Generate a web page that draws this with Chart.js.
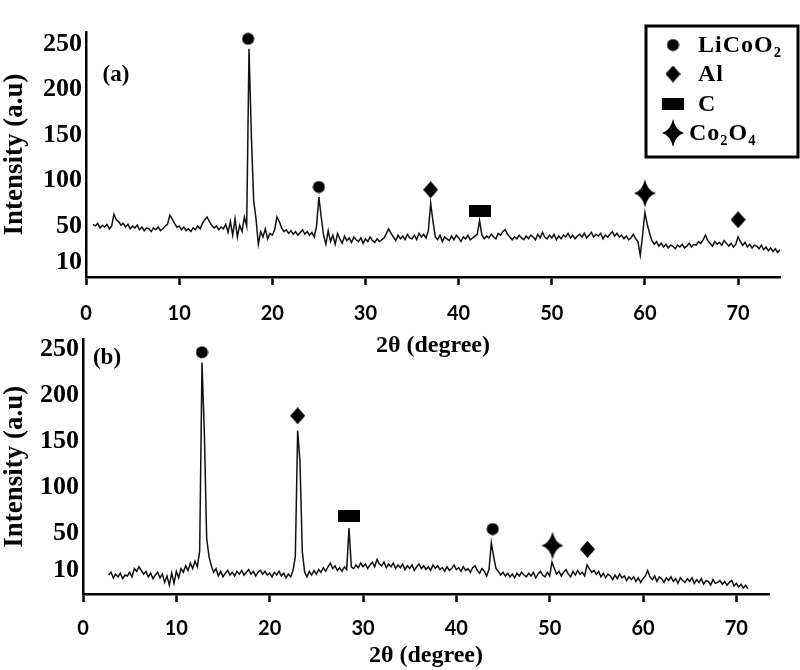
<!DOCTYPE html>
<html>
<head>
<meta charset="utf-8">
<script src="https://cdn.jsdelivr.net/npm/chart.js@4.4.0/dist/chart.umd.min.js"></script>
<style>
    body { margin: 0; background: #fff; }
    #wrap { position: relative; width: 800px; height: 670px; }
    canvas { position: absolute; left: 0; }
    #chartA { top: 0; }
    #chartB { top: 320px; }
</style>
</head>
<body>
<div id="wrap">
    <canvas id="chartA" width="800" height="364"></canvas>
    <canvas id="chartB" width="800" height="350"></canvas>
</div>
<script>
// 2-theta sampling of the two patterns (degrees)
const stepDeg = 0.25;
const startA = 0.75;
const startB = 2.75;

// (a) intensity, one value every 0.25 deg starting at 0.75
const intensityA = [
    52,
    50, 53, 48, 51,   49, 52, 47, 50,   63, 57, 55, 51,   53, 49, 52, 47,   50, 48, 51, 46,
    49, 45, 48, 47,   44, 48, 46, 49,   45, 47, 50, 52,   62, 58, 53, 49,   50, 46, 49, 45,
    47, 44, 48, 46,   50, 47, 53, 57,   60, 55, 51, 48,   50, 46, 49, 47,   52, 43, 55, 40,
    58, 38, 51, 44,   60, 50, 245, 150, 78, 58, 30, 44,   38, 47, 36, 42,   40, 46, 60, 55,
    48, 44, 46, 42,   45, 41, 44, 40,   43, 46, 41, 44,   40, 43, 38, 50,   82, 60, 40, 30,
    45, 33, 40, 30,   42, 36, 31, 39,   34, 37, 32, 38,   35, 33, 37, 31,   36, 33, 38, 34,
    32, 36, 33, 35,   37, 42, 47, 42,   38, 34, 40, 36,   39, 35, 41, 37,   36, 40, 35, 42,
    38, 41, 37, 45,   75, 55, 38, 35,   40, 33, 38, 36,   34, 39, 35, 40,   37, 33, 38, 36,
    40, 35, 37, 39,   41, 56, 40, 36,   39, 37, 41, 38,   36, 42, 40, 44,   46, 41, 38, 35,
    38, 36, 40, 37,   35, 39, 36, 40,   38, 35, 41, 37,   43, 38, 36, 40,   37, 41, 35, 39,
    36, 40, 38, 42,   37, 40, 36, 39,   41, 38, 42, 37,   40, 43, 38, 41,   39, 42, 36, 40,
    38, 41, 44, 39,   42, 38, 40, 36,   39, 35, 37, 41,   36, 33, 18, 40,   65, 52, 42, 34,
    30, 33, 28, 31,   27, 30, 26, 29,   28, 25, 29, 27,   30, 26, 28, 31,   27, 30, 29, 33,
    31, 35, 40, 34,   31, 28, 33, 30,   32, 29, 34, 31,   28, 31, 27, 30,   38, 33, 29, 32,
    27, 30, 26, 29,   28, 25, 29, 24,   27, 23, 26, 22,   25, 21, 24
];

// (b) intensity, one value every 0.25 deg starting at 2.75
const intensityB = [
    5,
    8, 2, 6, 3,       7, 1, 5, 4,       8, 3, 12, 9,      14, 10, 6, 9,     3, 7, 1, 5,
    8, 2, 6, -3,      4, -6, 7, -4,     9, 2, 12, 8,      15, 10, 18, 12,   20, 14, 31, 236,
    160, 45, 25, 15,  8, 12, 4, 9,      3, 7, 10, 5,      8, 4, 9, 6,       10, 5, 8, 11,
    6, 9, 4, 8,       10, 6, 9, 5,      7, 3, 8, 5,       9, 4, 7, 2,       6, 3, 10, 25,
    162, 128, 30, 8,  3, 9, 5, 10,      6, 11, 8, 13,     9, 14, 18, 12,    15, 10, 13, 9,
    14, 11, 56, 14,   12, 16, 13, 18,   14, 17, 12, 16,   19, 14, 22, 17,   15, 19, 13, 17,
    14, 18, 12, 16,   13, 17, 11, 15,   12, 16, 10, 14,   17, 12, 15, 11,   14, 10, 16, 12,
    15, 11, 13, 9,    14, 10, 12, 16,   11, 13, 9, 14,    10, 12, 8, 13,    15, 10, 7, 12,
    9, 4, 11, 40,     25, 12, 9, 5,     8, 4, 7, 3,       6, 2, 7, 4,       8, 5, 3, 7,
    4, 8, 2, 6,       9, 5, 3, 8,       4, 19, 12, 6,     9, 4, 8, 11,      6, 3, 9, 5,
    10, 6, 8, 4,      16, 12, 8, 10,    6, 9, 3, 7,       2, 6, 4, 0,       5, 1, 6, 2,
    4, -1, 3, 0,      3, -2, 2, -3,     1, 4, 10, 3,      0, 4, -2, 3,      1, -3, 2, -1,
    3, -2, 1, -4,     2, -1, -3, 1,     -2, 2, -4, 0,     -3, 1, -5, -1,    -2, -6, 0, -4,
    -3, -1, -5, -2,   -6, -3, -1, -7,   -4, -8, -5, -9,   -6, -10
];

// phase markers [2theta, height] above the peaks
const licoo2A = [[17.4, 256], [25.0, 93]];
const alA = [[37.0, 90], [70.0, 57]];
const carbonA = [[42.3, 67]];
const co2o4A = [[60.0, 86]];

const licoo2B = [[12.75, 247], [43.9, 55]];
const alB = [[23.0, 178], [54.05, 33]];
const carbonB = [[28.5, 69]];
const co2o4B = [[50.3, 37]];

const phaseNames = ['LiCoO₂', 'Al', 'C', 'Co₂O₄'];
const yTickValues = [10, 50, 100, 150, 200, 250];
const xTickValues = [0, 10, 20, 30, 40, 50, 60, 70];

const serif = "'Liberation Serif', 'Times New Roman', serif";

// marker glyphs, drawn once and used as point styles
function makeGlyph(w, h, draw) {
    const c = document.createElement('canvas');
    c.width = w;
    c.height = h;
    const g = c.getContext('2d');
    g.fillStyle = '#000';
    draw(g, w, h);
    return c;
}

const circleGlyph = makeGlyph(13, 13, (g, w, h) => {
    g.beginPath();
    g.arc(w / 2, h / 2, 6, 0, Math.PI * 2);
    g.fill();
});
const diamondGlyph = makeGlyph(15, 17, (g, w, h) => {
    g.beginPath();
    g.moveTo(w / 2, 0);
    g.lineTo(w, h / 2);
    g.lineTo(w / 2, h);
    g.lineTo(0, h / 2);
    g.closePath();
    g.fill();
});
const rectGlyph = makeGlyph(22, 12, (g, w, h) => {
    g.fillRect(0, 0, w, h);
});
const starGlyph = makeGlyph(22, 28, (g, w, h) => {
    const cx = w / 2, cy = h / 2;
    g.beginPath();
    g.moveTo(cx, 0);
    g.quadraticCurveTo(cx + 2.5, cy - 2.5, w, cy);
    g.quadraticCurveTo(cx + 2.5, cy + 2.5, cx, h);
    g.quadraticCurveTo(cx - 2.5, cy + 2.5, 0, cy);
    g.quadraticCurveTo(cx - 2.5, cy - 2.5, cx, 0);
    g.fill();
});
const glyphs = [circleGlyph, diamondGlyph, rectGlyph, starGlyph];

function toPoints(start, values) {
    return values.map((v, i) => ({ x: start + i * stepDeg, y: v }));
}

function markerSet(list, glyph) {
    return {
        data: list.map(p => ({ x: p[0], y: p[1] })),
        showLine: false,
        pointStyle: glyph,
        pointRadius: 6,
        clip: false
    };
}

// "(a)" / "(b)" tag inside the plot
const panelTag = {
    id: 'panelTag',
    afterDraw(chart, args, opts) {
        const ctx = chart.ctx;
        ctx.save();
        ctx.font = 'bold 23px ' + serif;
        ctx.fillStyle = '#000';
        ctx.textAlign = 'center';
        ctx.textBaseline = 'middle';
        ctx.fillText(opts.text, opts.x, opts.y);
        ctx.restore();
    }
};

// boxed phase legend (top panel only)
const phaseLegend = {
    id: 'phaseLegend',
    afterDraw(chart, args, opts) {
        if (!opts.show) return;
        const ctx = chart.ctx;
        ctx.save();
        ctx.strokeStyle = '#000';
        ctx.lineWidth = 3;
        ctx.strokeRect(646, 26, 152, 131);
        ctx.font = 'bold 24px ' + serif;
        ctx.letterSpacing = '1px';
        ctx.fillStyle = '#000';
        ctx.textBaseline = 'middle';
        const rows = [45, 74, 104, 133];
        phaseNames.forEach((name, i) => {
            const gl = glyphs[i];
            ctx.drawImage(gl, 673 - gl.width / 2, rows[i] - gl.height / 2);
            ctx.fillText(name, i === 3 ? 689 : 698, rows[i] + 1);
        });
        ctx.restore();
    }
};

function makePanel(canvasId, start, values, marks, opts) {
    const ctx = document.getElementById(canvasId).getContext('2d');
    const datasets = [{
        data: toPoints(start, values),
        showLine: true,
        borderColor: '#111',
        borderWidth: 1.5,
        pointRadius: 0,
        tension: 0
    }];
    marks.forEach((m, i) => datasets.push(markerSet(m, glyphs[i])));

    return new Chart(ctx, {
        type: 'scatter',
        data: { datasets: datasets },
        plugins: [panelTag, phaseLegend],
        options: {
            responsive: false,
            animation: false,
            events: [],
            layout: { padding: { top: opts.top, left: 0, right: opts.right, bottom: 0 } },
            plugins: {
                legend: { display: false },
                tooltip: { enabled: false },
                panelTag: opts.tag,
                phaseLegend: { show: opts.legend }
            },
            scales: {
                x: {
                    type: 'linear',
                    min: 0,
                    max: opts.xMax,
                    afterFit: s => { s.height = opts.xHeight; },
                    afterBuildTicks: s => { s.ticks = xTickValues.map(v => ({ value: v })); },
                    border: { display: true, color: '#000', width: 2.5 },
                    grid: { drawOnChartArea: false, drawTicks: true, tickLength: 8, tickWidth: 2.5, tickColor: '#000', color: '#000' },
                    ticks: {
                        autoSkip: false,
                        maxRotation: 0,
                        padding: opts.xTickPad,
                        color: '#000',
                        font: { family: 'Lato', weight: 'bold', size: 20 }
                    },
                    title: {
                        display: true,
                        text: '2θ (degree)',
                        color: '#000',
                        padding: { top: 0, bottom: opts.titlePad },
                        font: { family: serif, weight: 'bold', size: 24 }
                    }
                },
                y: {
                    type: 'linear',
                    min: opts.yMin,
                    max: opts.yMax,
                    afterFit: s => { s.width = opts.yWidth; },
                    afterBuildTicks: s => { s.ticks = yTickValues.map(v => ({ value: v })); },
                    border: { display: true, color: '#000', width: 2.5 },
                    grid: { drawOnChartArea: false, drawTicks: false },
                    ticks: {
                        autoSkip: false,
                        padding: 4,
                        color: '#000',
                        font: { family: serif, weight: 'bold', size: 26 }
                    },
                    title: {
                        display: true,
                        text: 'Intensity (a.u)',
                        color: '#000',
                        padding: { top: 2, bottom: 0 },
                        font: { family: serif, weight: 'bold', size: 27, lineHeight: 1.0 }
                    }
                }
            }
        }
    });
}

makePanel('chartA', startA, intensityA, [licoo2A, alA, carbonA, co2o4A], {
    top: 32, right: 20, xMax: 74.5, xHeight: 87, xTickPad: 17, titlePad: 4,
    yMin: -6, yMax: 263.5, yWidth: 86,
    tag: { text: '(a)', x: 116, y: 75 }, legend: true
});

makePanel('chartB', startB, intensityB, [licoo2B, alB, carbonB, co2o4B], {
    top: 16, right: 31, xMax: 73.5, xHeight: 76, xTickPad: 15, titlePad: 0,
    yMin: -15.6, yMax: 260.8, yWidth: 83,
    tag: { text: '(b)', x: 107, y: 38 }, legend: false
});
</script>
</body>
</html>
